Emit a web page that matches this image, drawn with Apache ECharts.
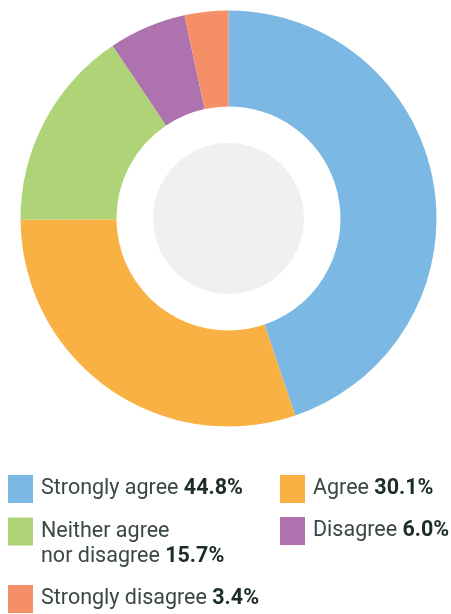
<!DOCTYPE html>
<html>
<head>
<meta charset="utf-8">
<script src="https://cdn.jsdelivr.net/npm/echarts@6/dist/echarts.min.js"></script>
<style>
html,body{margin:0;padding:0;background:#fff;}
#c{width:451px;height:614px;}
</style>
</head>
<body>
<div id="c"></div>
<script>
var categories = ['Strongly agree', 'Agree', 'Neither agree nor disagree', 'Disagree', 'Strongly disagree'];
var legendLabels = ['Strongly agree', 'Agree', 'Neither agree\nnor disagree', 'Disagree', 'Strongly disagree'];
var values = [44.8, 30.1, 15.7, 6.0, 3.4];
var colors = ['#7BB8E4', '#F9B144', '#AFD477', '#AE72AE', '#F58F67'];

var FONT = 'Roboto';
var FS = 21.5;
var legendPos = [
  {left: 8, top: 475},
  {left: 280, top: 475},
  {left: 8, top: 494, multi: true},
  {left: 280, top: 517},
  {left: 8, top: 585}
];

var chart = echarts.init(document.getElementById('c'), null, {renderer: 'canvas'});

var legends = categories.map(function (name, i) {
  var p = legendPos[i];
  return {
    data: [name],
    left: p.left,
    top: p.top,
    orient: 'vertical',
    padding: 0,
    icon: 'rect',
    itemWidth: 25,
    itemHeight: 28,
    selectedMode: false,
    formatter: function (n) {
      var idx = categories.indexOf(n);
      var lines = legendLabels[idx].split('\n');
      var out = lines.map(function (l) { return '{n|' + l + '}'; }).join('\n');
      return out + ' {b|' + values[idx].toFixed(1) + '%}';
    },
    textStyle: {
      fontFamily: FONT,
      fontSize: FS,
      lineHeight: 25,
      color: '#3B4646',
      padding: p.multi ? [25, 0, 0, 3] : [0, 0, 0, 3],
      rich: {
        n: {fontFamily: FONT, fontSize: FS, lineHeight: 25, color: '#3B4646'},
        b: {fontFamily: FONT, fontSize: FS, lineHeight: 25, fontWeight: 'bold', color: '#1C2B2B'}
      }
    }
  };
});

chart.setOption({
  animation: false,
  color: colors,
  legend: legends,
  series: [
    {
      type: 'pie',
      center: [228.5, 218.5],
      radius: [112, 208],
      startAngle: 90,
      clockwise: true,
      silent: true,
      label: {show: false},
      labelLine: {show: false},
      itemStyle: {borderWidth: 0},
      emphasis: {disabled: true},
      data: categories.map(function (c, i) {
        return {name: c, value: values[i], itemStyle: {color: colors[i]}};
      })
    },
    {
      type: 'pie',
      center: [228.5, 218.5],
      radius: [0, 75.5],
      silent: true,
      label: {show: false},
      labelLine: {show: false},
      emphasis: {disabled: true},
      data: [{name: '_core', value: 1, itemStyle: {color: '#F1F0EF'}}]
    }
  ]
});
</script>
</body>
</html>
